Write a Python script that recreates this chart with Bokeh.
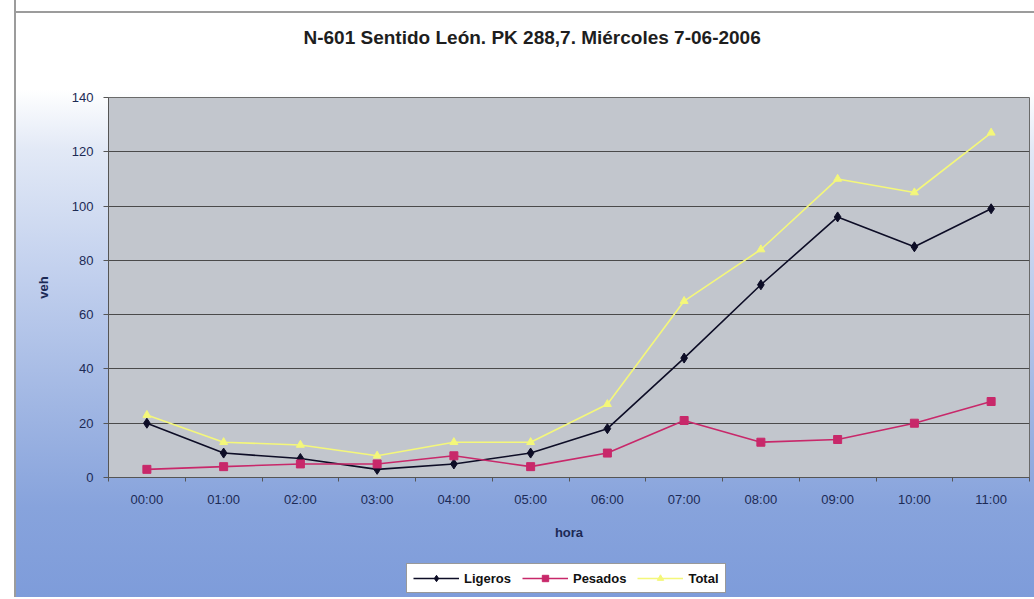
import numpy as np
from bokeh.plotting import figure
from bokeh.layouts import column
from bokeh.models import (Range1d, FixedTicker, Legend, LegendItem, Title)
from bokeh.embed import file_html
from bokeh.resources import INLINE

# ---- data ----
hours = ["00:00", "01:00", "02:00", "03:00", "04:00", "05:00",
         "06:00", "07:00", "08:00", "09:00", "10:00", "11:00"]
ligeros = [20, 9, 7, 3, 5, 9, 18, 44, 71, 96, 85, 99]
pesados = [3, 4, 5, 5, 8, 4, 9, 21, 13, 14, 20, 28]
total = [23, 13, 12, 8, 13, 13, 27, 65, 84, 110, 105, 127]
y_ticks = [0, 20, 40, 60, 80, 100, 120, 140]
series_names = ["Ligeros", "Pesados", "Total"]

FONT = "Liberation Sans"
x = np.arange(len(hours)) + 0.5

c_lig = "#0d0d26"
c_pes = "#c8286a"
c_tot = "#f4f77a"

p = figure(width=1034, height=555, output_backend="svg", toolbar_location=None,
           x_range=Range1d(0, len(hours)), y_range=Range1d(0, 140),
           min_border_left=108, min_border_right=5, min_border_top=97,
           min_border_bottom=78)
p.border_fill_color = None
p.background_fill_color = "#c2c6cd"
p.outline_line_color = "#6a6a6a"
p.outline_line_width = 1

# spacer (nearest to the frame), then the real title above it
p.add_layout(Title(text=" ", text_font_size="2px", standoff=46), "above")
p.add_layout(Title(text="N-601 Sentido León. PK 288,7.  Miércoles 7-06-2006",
                   align="left", vertical_align="bottom", text_font=FONT,
                   text_font_size="19px", text_font_style="bold",
                   text_color="#1e1e1e", standoff=0, offset=195), "above")

# grid / axes
p.xgrid.visible = False
p.ygrid.grid_line_color = "#4a4a4a"
p.ygrid.grid_line_width = 1
p.yaxis.ticker = FixedTicker(ticks=y_ticks)
p.xaxis.ticker = FixedTicker(ticks=list(x), minor_ticks=list(range(len(hours) + 1)))
p.xaxis.major_label_overrides = {float(v): h for v, h in zip(x, hours)}

for ax in (p.xaxis, p.yaxis):
    ax.axis_line_color = "#555555"
    ax.major_tick_line_color = "#555555"
    ax.minor_tick_line_color = "#555555"
    ax.major_label_text_font = FONT
    ax.major_label_text_font_size = "13px"
    ax.major_label_text_color = "#1c2a55"
    ax.axis_label_text_font = FONT
    ax.axis_label_text_font_size = "13px"
    ax.axis_label_text_font_style = "bold"
    ax.axis_label_text_color = "#1c2a55"

p.xaxis.major_tick_out = 0
p.xaxis.major_tick_in = 0
p.xaxis.minor_tick_out = 4
p.xaxis.minor_tick_in = 0
p.xaxis.major_label_standoff = 10
p.xaxis.axis_label = "hora"
p.xaxis.axis_label_standoff = 15

p.yaxis.major_tick_out = 5
p.yaxis.major_tick_in = 0
p.yaxis.minor_tick_line_color = None
p.yaxis.major_label_standoff = 10
p.yaxis.axis_label = "veh"
p.yaxis.axis_label_standoff = 18

# series
p.line(x, total, line_color=c_tot, line_width=1.6)
p.scatter(x, total, marker="triangle", size=8, fill_color=c_tot, line_color=c_tot)
p.line(x, ligeros, line_color=c_lig, line_width=1.6)
p.scatter(x, ligeros, marker="diamond", size=10, fill_color=c_lig, line_color=c_lig)
p.line(x, pesados, line_color=c_pes, line_width=1.6)
p.scatter(x, pesados, marker="square", size=8, fill_color=c_pes, line_color=c_pes)

# legend strip (separate small figure so the legend is not clipped by the frame);
# its renderers reuse the series but the view range shows none of their points
lg = figure(width=1034, height=42, output_backend="svg", toolbar_location=None,
            x_range=Range1d(0, 1), y_range=Range1d(-2, -1),
            x_axis_type=None, y_axis_type=None, min_border=0)
lg.border_fill_color = None
lg.background_fill_color = None
lg.outline_line_color = None
lg.grid.visible = False

items = []
for name, vals, col, mk, sz in zip(series_names, [ligeros, pesados, total],
                                   [c_lig, c_pes, c_tot],
                                   ["diamond", "square", "triangle"], [10, 8, 8]):
    rl = lg.line(x, vals, line_color=col, line_width=1.6)
    rm = lg.scatter(x, vals, marker=mk, size=sz, fill_color=col, line_color=col)
    items.append(LegendItem(label=name, renderers=[rl, rm]))

legend = Legend(items=items, orientation="horizontal", location=(298, 4))
legend.label_text_font = FONT
legend.label_text_font_size = "13px"
legend.label_text_font_style = "bold"
legend.label_text_color = "#111111"
legend.glyph_width = 46
legend.glyph_height = 16
legend.label_standoff = 5
legend.spacing = 11
legend.padding = 6
legend.margin = 0
legend.border_line_color = "#333333"
legend.border_line_width = 1
legend.background_fill_color = "white"
legend.background_fill_alpha = 1
lg.add_layout(legend, "center")

layout = column(p, lg, spacing=0)
layout.styles = {"background":
                 "linear-gradient(to right, #ffffff 14px, #9c9c9c 14px, #9c9c9c 16px, transparent 16px), "
                 "linear-gradient(to bottom, #ffffff 11px, #9c9c9c 11px, #9c9c9c 13px, transparent 13px), "
                 "linear-gradient(to bottom, #ffffff 0%, #ffffff 15%, #e2e9f6 25%, #c3d1ee 45%, #a0b6e3 68%, #87a3dc 85%, #7e9cda 100%)"}

open("out.html", "w").write(file_html(layout, INLINE))
